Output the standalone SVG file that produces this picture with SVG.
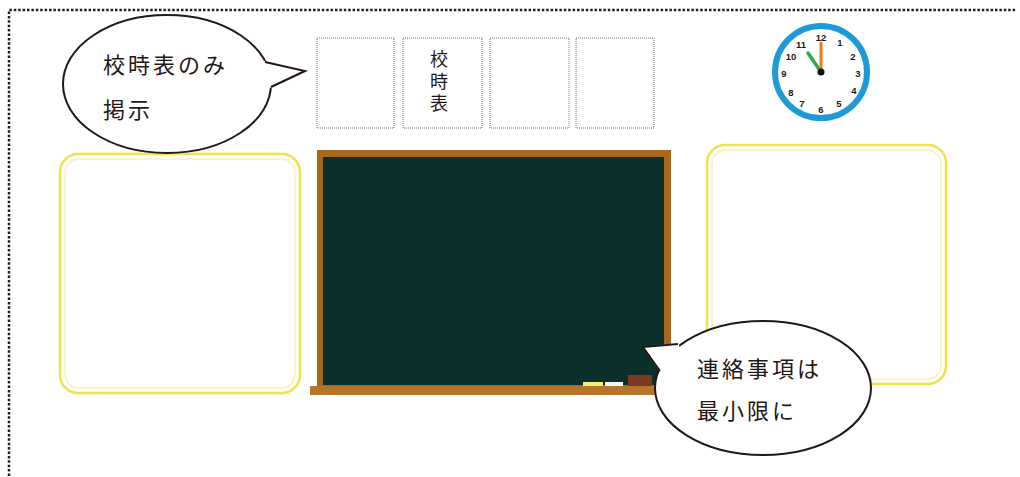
<svg xmlns="http://www.w3.org/2000/svg" width="1020" height="477" viewBox="0 0 1020 477">
  <style>
    .frame { fill: none; stroke: #1e1e1e; stroke-width: 2.5; stroke-dasharray: 2.5 1.9; }
    .slot { fill: #ffffff; stroke: #6f6f6f; stroke-width: 1; stroke-dasharray: 1 1; }
    .panel { fill: #ffffff; stroke: #efe24a; stroke-width: 2.5; }
    .panel-in { fill: none; stroke: #f7f2b8; stroke-width: 1.5; }
    .bubble { fill: #ffffff; stroke: #231815; stroke-width: 2; }
    .tail { fill: none; stroke: #231815; stroke-width: 2; stroke-linejoin: miter; }
    .say { font-family: "Noto Sans CJK JP", "Noto Sans CJK SC", sans-serif; font-size: 22px; fill: #231815; letter-spacing: 3px; }
    .tag { font-family: "Noto Sans CJK JP", sans-serif; font-size: 18px; fill: #231815; writing-mode: vertical-rl; letter-spacing: 4px; }
    .num { font-family: "Liberation Sans", sans-serif; font-size: 9.5px; font-weight: bold; fill: #231815; text-anchor: middle; dominant-baseline: central; }
  </style>

  <rect width="1020" height="477" fill="#ffffff"/>

  <!-- dotted outline of the classroom front wall -->
  <path class="frame" d="M9 476 V10 H1017"/>

  <!-- four notice slots above the blackboard -->
  <g id="slot1"><rect class="slot" x="317" y="38" width="77" height="90"/></g>
  <g id="slot2">
    <rect class="slot" x="403" y="38" width="79" height="90"/>
    <text class="tag" x="439" y="50">校時表</text>
  </g>
  <g id="slot3"><rect class="slot" x="490" y="38" width="79" height="90"/></g>
  <g id="slot4"><rect class="slot" x="576" y="38" width="78" height="90"/></g>

  <!-- wall clock -->
  <g id="clock">
    <circle cx="821" cy="72" r="46" fill="#ffffff" stroke="#1f9ad8" stroke-width="6"/>
    <text class="num" x="821" y="37">12</text>
    <text class="num" x="840" y="42">1</text>
    <text class="num" x="853" y="56">2</text>
    <text class="num" x="858" y="73">3</text>
    <text class="num" x="854" y="90">4</text>
    <text class="num" x="839" y="103">5</text>
    <text class="num" x="821" y="109">6</text>
    <text class="num" x="802" y="103">7</text>
    <text class="num" x="791" y="92">8</text>
    <text class="num" x="784" y="73">9</text>
    <text class="num" x="791" y="56">10</text>
    <text class="num" x="801" y="44">11</text>
    <line x1="821" y1="72" x2="821" y2="43" stroke="#f07a1a" stroke-width="3" stroke-linecap="round"/>
    <line x1="821" y1="72" x2="808" y2="53" stroke="#2fa84a" stroke-width="3.5" stroke-linecap="round"/>
    <circle cx="821" cy="72" r="3.5" fill="#111111"/>
  </g>

  <!-- side notice panels -->
  <g id="panel-left">
    <rect class="panel" x="60" y="154" width="240" height="239" rx="18"/>
    <rect class="panel-in" x="65" y="159" width="230" height="229" rx="14"/>
  </g>
  <g id="panel-right">
    <rect class="panel" x="707" y="145" width="239" height="239" rx="18"/>
    <rect class="panel-in" x="712" y="150" width="229" height="229" rx="14"/>
  </g>

  <!-- blackboard -->
  <g id="blackboard">
    <rect x="317" y="150" width="354" height="237" fill="#a8691f"/>
    <rect x="323" y="157" width="341" height="228" fill="#0b2f2a"/>
    <rect x="310" y="386" width="346" height="9" fill="#b5762b"/>
    <rect x="583" y="382" width="20" height="4" fill="#f3ee7a"/>
    <rect x="605" y="382" width="18" height="4" fill="#f4f4f0"/>
    <rect x="628" y="375" width="24" height="11" fill="#7a3a22"/>
  </g>

  <!-- speech bubble: timetable only -->
  <g id="bubble-timetable">
    <ellipse class="bubble" cx="167" cy="84" rx="104" ry="69"/>
    <polygon points="264,61 305,71 271,88 250,75" fill="#ffffff"/>
    <polyline class="tail" points="265,62 305,71 271,87"/>
    <text class="say" x="103" y="73">校時表のみ</text>
    <text class="say" x="103" y="118">掲示</text>
  </g>

  <!-- speech bubble: minimal notices -->
  <g id="bubble-notices">
    <ellipse class="bubble" cx="763" cy="388" rx="108" ry="67"/>
    <polygon points="679,343 643,347 659,371 680,360" fill="#ffffff"/>
    <polyline class="tail" points="678,344 643,347 660,371"/>
    <text class="say" x="697" y="377">連絡事項は</text>
    <text class="say" x="697" y="419">最小限に</text>
  </g>
</svg>
